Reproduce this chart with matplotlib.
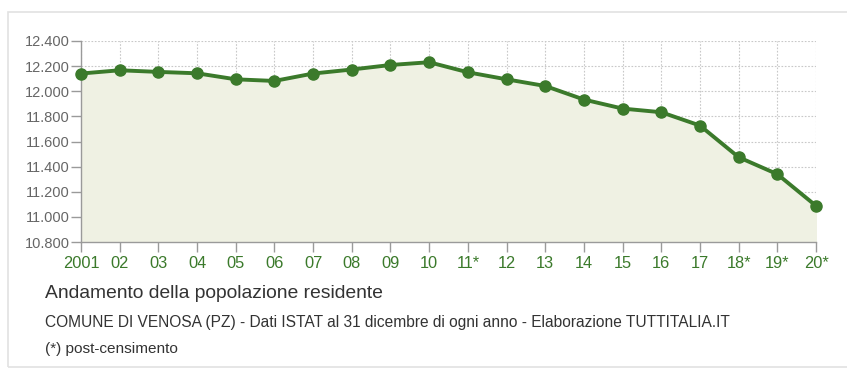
import matplotlib.pyplot as plt
from matplotlib.ticker import FuncFormatter
from matplotlib.patches import Rectangle

plt.rcParams['font.family'] = ['Liberation Sans', 'DejaVu Sans']

years = ["2001", "02", "03", "04", "05", "06", "07", "08", "09", "10",
         "11*", "12", "13", "14", "15", "16", "17", "18*", "19*", "20*"]
residents = [12141, 12167, 12154, 12143, 12095, 12082, 12141, 12173, 12209, 12231,
             12151, 12095, 12042, 11934, 11862, 11833, 11727, 11475, 11340, 11088]
y_ticks = [10800, 11000, 11200, 11400, 11600, 11800, 12000, 12200, 12400]

green = "#3b7a2b"
fill_col = "#eff1e3"
grid_col = "#c8c8c8"

fig = plt.figure(figsize=(8.47, 3.71), dpi=100)

# light outer box
fig.patches.append(Rectangle((8 / 847, 4 / 371), 1.0, 355 / 371, transform=fig.transFigure,
                             fill=False, edgecolor="#e2e2e2", linewidth=1.2))

ax = fig.add_axes([81 / 847, 1 - 242 / 371, 735 / 847, 201 / 371])
x = list(range(len(years)))

ax.fill_between(x, residents, y_ticks[0], color=fill_col, zorder=1)
ax.plot(x, residents, color=green, linewidth=2.8, marker="o", markersize=8, zorder=3,
        solid_capstyle="round", clip_on=False)

ax.set_xlim(0, len(years) - 1)
ax.set_ylim(y_ticks[0], y_ticks[-1])
ax.set_xticks(x)
ax.set_xticklabels(years)
ax.set_yticks(y_ticks)
ax.yaxis.set_major_formatter(FuncFormatter(lambda v, p: f"{int(v):,}".replace(",", ".")))

ax.grid(True, color=grid_col, linestyle=(0, (1.5, 1.5)), linewidth=0.8, zorder=0)
ax.set_axisbelow(True)
for side in ("top", "right"):
    ax.spines[side].set_visible(False)
for side in ("left", "bottom"):
    ax.spines[side].set_color("#9a9a9a")
    ax.spines[side].set_linewidth(1.0)

ax.tick_params(axis="y", colors="#9a9a9a", labelcolor="#666666", labelsize=10.5,
               length=7, width=1, pad=1)
ax.tick_params(axis="x", colors="#9a9a9a", labelcolor=green, labelsize=11.8,
               length=7, width=1, pad=3)

fig.text(45 / 847, 1 - 294 / 371, "Andamento della popolazione residente",
         fontsize=13.9, color="#333333", va="center")
fig.text(45 / 847, 1 - 323 / 371,
         "COMUNE DI VENOSA (PZ) - Dati ISTAT al 31 dicembre di ogni anno - Elaborazione TUTTITALIA.IT",
         fontsize=11.2, color="#333333", va="center")
fig.text(45 / 847, 1 - 349 / 371, "(*) post-censimento",
         fontsize=11.1, color="#333333", va="center")

fig.savefig("out.png", dpi=100, facecolor="white")
